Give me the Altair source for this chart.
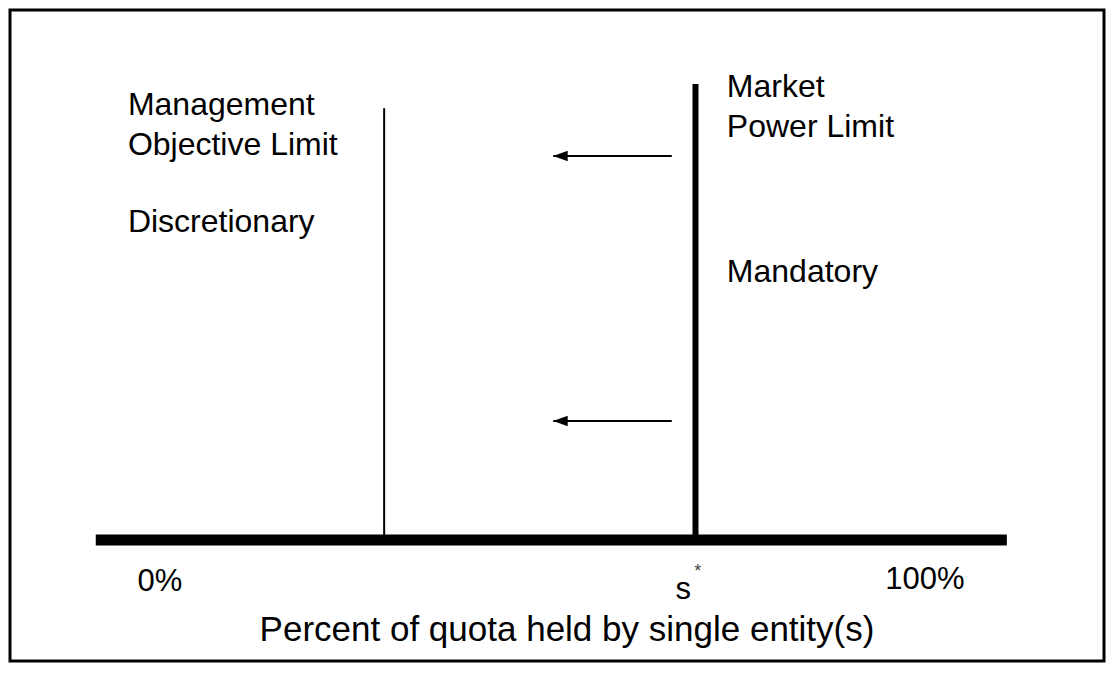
import altair as alt
import pandas as pd

# ---- data (x: percent of quota, y: schematic height above the baseline) ----
base_x = [-8.4]
base_x2 = [110.7]
base_y = [0]

mgmt_x = [29.3]
mgmt_top = [94.7]

mkt_x = [70.0]
mkt_top = [100.0]

arrow_from = [66.9, 66.9]
arrow_to = [51.4, 51.4]
arrow_y = [84.2, 26.1]

side_text = ["Management", "Objective Limit", "Discretionary",
             "Market", "Power Limit", "Mandatory"]
side_x = [-4.2, -4.2, -4.2, 74.1, 74.1, 74.1]
side_y = [95.4, 86.6, 69.7, 99.3, 90.6, 58.8]

tick_text = ["0%", "s", "100%"]
tick_x = [0.0, 68.4, 100.0]
tick_y = [-9.2, -11.0, -8.8]

star_text = ["*"]
star_x = [70.3]
star_y = [-7.0]

title_text = ["Percent of quota held by single entity(s)"]
title_x = [53.2]
title_y = [-19.7]

XS = alt.Scale(domain=[-19.61, 123.40], nice=False, zero=False)
YS = alt.Scale(domain=[-26.54, 116.23], nice=False, zero=False)
FONT = "Liberation Sans"


def X(f):
    return alt.X(f, type="quantitative", scale=XS, axis=None)


def Y(f):
    return alt.Y(f, type="quantitative", scale=YS, axis=None)


baseline = alt.Chart(pd.DataFrame({"x": base_x, "x2": base_x2, "y": base_y})).mark_rule(
    color="black", strokeWidth=11, strokeCap="butt"
).encode(x=X("x"), x2="x2", y=Y("y"))

mgmt = alt.Chart(pd.DataFrame({"x": mgmt_x, "y": [0], "y2": mgmt_top})).mark_rule(
    color="black", strokeWidth=2, strokeCap="butt"
).encode(x=X("x"), y=Y("y"), y2="y2")

mkt = alt.Chart(pd.DataFrame({"x": mkt_x, "y": [0], "y2": mkt_top})).mark_rule(
    color="black", strokeWidth=6, strokeCap="butt"
).encode(x=X("x"), y=Y("y"), y2="y2")

arrows_df = pd.DataFrame({"x": arrow_from, "x2": arrow_to, "y": arrow_y})
shafts = alt.Chart(arrows_df).mark_rule(color="black", strokeWidth=2).encode(
    x=X("x"), x2="x2", y=Y("y")
)
heads = alt.Chart(arrows_df).mark_point(
    shape="M0,0L2,-0.72L2,0.72Z", filled=True, color="black", opacity=1, size=210
).encode(x=X("x2"), y=Y("y"))

side = alt.Chart(pd.DataFrame({"t": side_text, "x": side_x, "y": side_y})).mark_text(
    align="left", baseline="middle", font=FONT, fontSize=32, color="black"
).encode(x=X("x"), y=Y("y"), text="t:N")

ticks = alt.Chart(pd.DataFrame({"t": tick_text, "x": tick_x, "y": tick_y})).mark_text(
    align="center", baseline="middle", font=FONT, fontSize=31, color="black"
).encode(x=X("x"), y=Y("y"), text="t:N")

star = alt.Chart(pd.DataFrame({"t": star_text, "x": star_x, "y": star_y})).mark_text(
    align="center", baseline="middle", font=FONT, fontSize=18, color="#444444"
).encode(x=X("x"), y=Y("y"), text="t:N")

title = alt.Chart(pd.DataFrame({"t": title_text, "x": title_x, "y": title_y})).mark_text(
    align="center", baseline="middle", font=FONT, fontSize=35, color="black"
).encode(x=X("x"), y=Y("y"), text="t:N")

chart = alt.layer(
    baseline, mgmt, mkt, shafts, heads, side, ticks, star, title
).properties(
    width=1094, height=651,
    padding={"left": 2, "top": 2, "right": 2, "bottom": 2},
    background="white",
).configure_view(stroke="black", strokeWidth=3)

chart.save("out.html", embed_options={"renderer": "svg", "actions": False})
